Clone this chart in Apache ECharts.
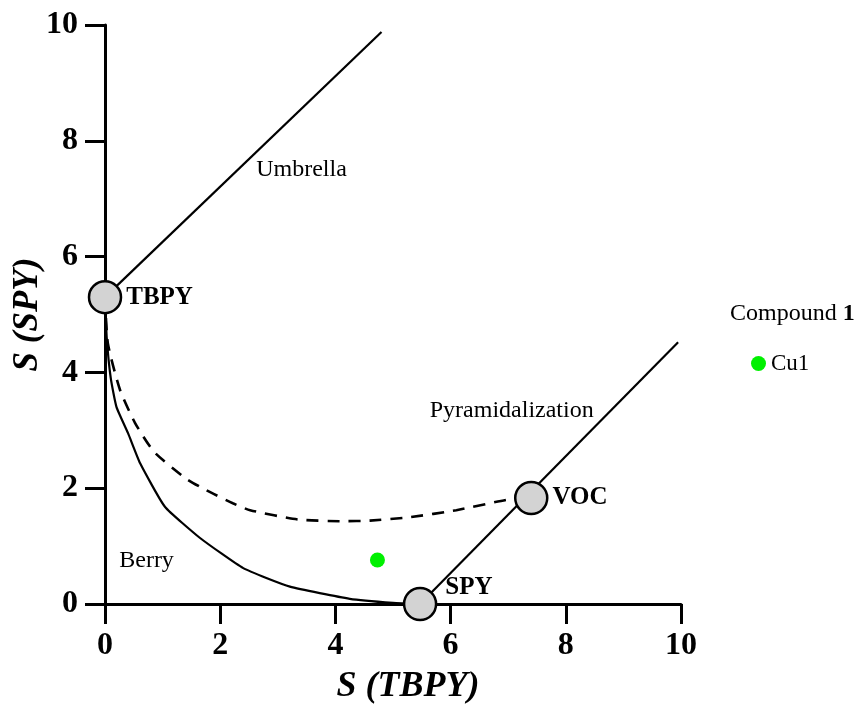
<!DOCTYPE html>
<html>
<head>
<meta charset="utf-8">
<script src="https://cdn.jsdelivr.net/npm/echarts@6/dist/echarts.min.js"></script>
<style>
html,body{margin:0;padding:0;background:#fff;}
#chart{width:857px;height:704px;}
</style>
</head>
<body>
<div id="chart"></div>
<script>
// ---- data ----
const xTicks = [0, 2, 4, 6, 8, 10];
const yTicks = [0, 2, 4, 6, 8, 10];
const referenceNames = ['TBPY', 'VOC', 'SPY'];
const referenceX = [0, 7.4, 5.47];
const referenceY = [5.3, 1.83, 0];
const umbrellaPath = [[0, 5.3], [4.8, 9.88]];
const pyramidalizationPath = [[5.47, 0], [9.95, 4.52]];
const berryPath = [[0, 5.3], [0.03, 4.6], [0.1, 3.9], [0.2, 3.4], [0.4, 2.95], [0.61, 2.43], [1.04, 1.68], [1.65, 1.14], [2.4, 0.62], [3.21, 0.3], [4.25, 0.09], [5.0, 0.02], [5.47, 0]];
const mepPath = [[0, 5.3], [0.05, 4.5], [0.26, 3.7], [0.52, 3.13], [0.85, 2.63], [1.4, 2.17], [1.75, 1.97], [2.22, 1.74], [2.52, 1.62], [3.35, 1.46], [4.13, 1.43], [4.6, 1.44], [5.3, 1.5], [6.1, 1.62], [6.98, 1.8], [7.4, 1.83]];
const compoundName = 'Cu1';
const compoundX = [4.73];
const compoundY = [0.76];
const regionNames = ['Umbrella', 'Pyramidalization', 'Berry'];
const regionX = [3.42, 7.07, 0.73];
const regionY = [7.5, 3.33, 0.74];

// ---- chart ----
const FONT = "'Liberation Serif', 'Times New Roman', serif";
const chart = echarts.init(document.getElementById('chart'), null, {renderer: 'canvas'});

const labelOffsets = {TBPY: [0, 0], VOC: [0, 0], SPY: [4, -16]};

const option = {
  backgroundColor: '#ffffff',
  animation: false,
  title: {
    text: '{a|Compound }{b|1}',
    left: 725,
    top: 297,
    textStyle: {
      fontWeight: 'normal',
      rich: {
        a: {fontFamily: FONT, fontSize: 24, fontWeight: 'normal', color: '#000'},
        b: {fontFamily: FONT, fontSize: 24, fontWeight: 'bold', color: '#000'}
      }
    }
  },
  legend: {
    left: 746,
    top: 347,
    data: [{name: compoundName, icon: 'circle', itemStyle: {color: '#00f000', opacity: 1}}],
    itemWidth: 15,
    itemHeight: 15,
    itemGap: 8,
    textStyle: {fontFamily: FONT, fontSize: 23, color: '#000'}
  },
  grid: {left: 105, right: 176, top: 25, bottom: 100, containLabel: false, outerBoundsMode: 'none'},
  xAxis: {
    type: 'value', min: 0, max: 10, interval: 2,
    name: 'S (TBPY)', nameLocation: 'middle', nameGap: 65, nameMoveOverlap: false,
    nameTextStyle: {fontFamily: FONT, fontSize: 36, fontWeight: 'bold', fontStyle: 'italic', color: '#000', padding: [0, 0, 0, 30]},
    axisLine: {show: true, onZero: false, lineStyle: {color: '#000', width: 3}},
    axisTick: {show: true, length: 20, lineStyle: {color: '#000', width: 3}},
    axisLabel: {fontFamily: FONT, fontSize: 32, fontWeight: 'bold', color: '#000', margin: 26,
      formatter: v => xTicks.includes(v) ? String(v) : ''},
    splitLine: {show: false}
  },
  yAxis: {
    type: 'value', min: 0, max: 10, interval: 2,
    name: 'S (SPY)', nameLocation: 'middle', nameGap: 60, nameMoveOverlap: false,
    nameTextStyle: {fontFamily: FONT, fontSize: 35, fontWeight: 'bold', fontStyle: 'italic', color: '#000'},
    axisLine: {show: true, onZero: false, lineStyle: {color: '#000', width: 3}},
    axisTick: {show: true, length: 20, lineStyle: {color: '#000', width: 3}},
    axisLabel: {fontFamily: FONT, fontSize: 32, fontWeight: 'bold', color: '#000', margin: 27,
      formatter: v => yTicks.includes(v) ? String(v) : ''},
    splitLine: {show: false}
  },
  series: [
    {
      name: 'Umbrella path', type: 'line', data: umbrellaPath, symbol: 'none',
      lineStyle: {color: '#000', width: 2.2}, z: 2, silent: true
    },
    {
      name: 'Pyramidalization path', type: 'line', data: pyramidalizationPath, symbol: 'none',
      lineStyle: {color: '#000', width: 2.2}, z: 2, silent: true
    },
    {
      name: 'Berry path', type: 'line', data: berryPath, symbol: 'none', smooth: 0.15,
      lineStyle: {color: '#000', width: 2.2}, z: 2, silent: true
    },
    {
      name: 'MEP', type: 'line', data: mepPath, symbol: 'none', smooth: 0.2,
      lineStyle: {color: '#000', width: 2.6, type: [12, 9]}, z: 2, silent: true
    },
    {
      name: 'Regions', type: 'scatter', symbol: 'circle', symbolSize: 1, silent: true, z: 3,
      itemStyle: {opacity: 0},
      data: regionNames.map((n, i) => ({value: [regionX[i], regionY[i]], name: n})),
      label: {show: true, position: [0, 0], align: 'center', verticalAlign: 'middle', formatter: p => p.name,
        fontFamily: FONT, fontSize: 24, color: '#000', opacity: 1}
    },
    {
      name: 'Reference', type: 'scatter', symbol: 'circle', symbolSize: 32, z: 5,
      itemStyle: {color: '#d3d3d3', borderColor: '#000', borderWidth: 2.5, opacity: 1},
      data: referenceNames.map((n, i) => ({
        value: [referenceX[i], referenceY[i]], name: n,
        label: {offset: labelOffsets[n]}
      })),
      label: {show: true, position: 'right', distance: 4, formatter: p => p.name,
        fontFamily: FONT, fontSize: 25, fontWeight: 'bold', color: '#000'}
    },
    {
      name: compoundName, type: 'scatter', symbol: 'circle', symbolSize: 15, z: 4,
      itemStyle: {color: '#00f000', opacity: 1},
      data: compoundX.map((x, i) => [x, compoundY[i]])
    }
  ]
};
chart.setOption(option);
</script>
</body>
</html>
